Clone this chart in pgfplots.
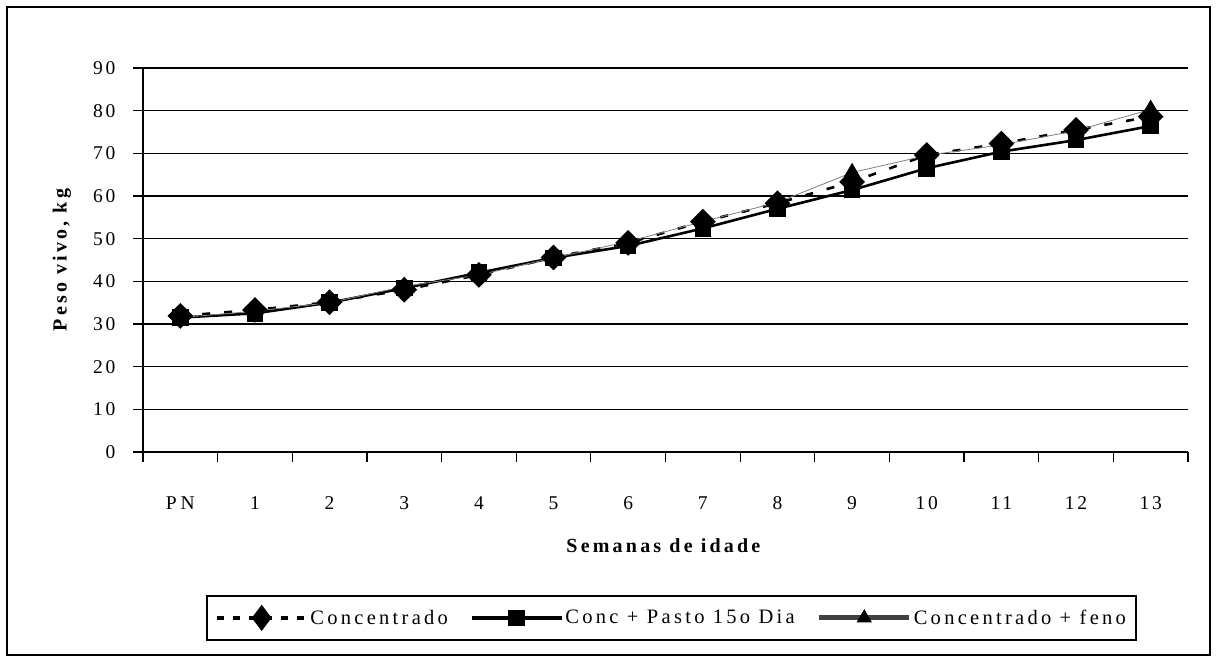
\documentclass[border=0pt]{standalone}
\usepackage{fontspec}
\setmainfont{Liberation Serif}
\newfontfamily\tickfont[LetterSpace=14]{Liberation Serif}
\newfontfamily\labfont[LetterSpace=16]{Liberation Serif}
\usepackage{pgfplots}
\pgfplotsset{compat=1.18}
\definecolor{fenogray}{HTML}{404040}
\begin{document}
\begin{tikzpicture}[x=1pt,y=1pt]
\path (-143,-208) rectangle (1075,452);
\draw[line width=1.5pt] (-136,-203) rectangle (1067,445);
\begin{axis}[
  at={(0,0)}, anchor=south west,
  scale only axis, width=1045pt, height=384pt,
  xmin=-0.5, xmax=13.5, ymin=0, ymax=90,
  axis x line=bottom, axis y line=left,
  axis line style={-, line width=1.6pt},
  ytick={0,10,...,90},
  ymajorgrids, major grid style={black, line width=1.2pt},
  tick align=outside,
  major tick length=10pt, minor tick length=10pt,
  y tick style={black, line width=1.2pt},
  major x tick style={draw=none},
  minor x tick style={black, line width=1.2pt},
  xtick={0,...,13},
  xticklabels={P\kern4pt N,1,2,3,4,5,6,7,8,9,10,11,12,13},
  minor xtick={-0.5,0.5,...,13.5},
  /pgf/number format/assume math mode=true,
  tick label style={font=\fontsize{19.5}{23}\selectfont\tickfont},
  xticklabel style={anchor=center, yshift=-41pt},
  yticklabel style={anchor=east, xshift=-14pt},
  xlabel={Semanas de idade},
  ylabel={Peso vivo, kg},
  label style={font=\fontsize{20}{24}\selectfont\labfont\bfseries},
  xlabel style={at={(axis description cs:0.498,-0.245)}, anchor=center},
  ylabel style={at={(axis description cs:-0.0775,0.5)}, anchor=center},
  legend style={at={(axis description cs:0.5057,-0.432)}, anchor=center,
    legend columns=3, draw=black, line width=1.5pt,
    font=\fontsize{20.5}{24}\selectfont\labfont,
    inner xsep=8pt, inner ysep=11pt,
    /tikz/every even column/.append style={column sep=20pt}},
  clip=false,
]
\addplot[black, line width=2.6pt, dash pattern=on 8pt off 14pt,
  mark=square*, mark size=7.8pt, mark options={solid, rotate=45},
  legend image code/.code={\draw[black, line width=3.5pt, dash pattern=on 7pt off 9pt] (0pt,0pt) -- (90pt,0pt);
    \path[black, solid] plot[mark=diamond*, mark size=11pt, mark options={solid}] coordinates {(45pt,0pt)};}]
  coordinates {(0,31.9) (1,33.3) (2,35.1) (3,38.0) (4,41.5) (5,45.6) (6,49.0)
    (7,54.0) (8,58.3) (9,63.3) (10,69.6) (11,72.3) (12,75.5) (13,78.6)};
\addlegendentry{Concentrado}
\addplot[black, line width=2.6pt,
  mark=square*, mark size=7pt, mark options={solid},
  legend image code/.code={\draw[black, line width=3.5pt] (0pt,0pt) -- (90pt,0pt);
    \path[black] plot[mark=square*, mark size=7pt] coordinates {(45pt,0pt)};}]
  coordinates {(0,31.5) (1,32.5) (2,35.0) (3,38.4) (4,42.0) (5,45.5) (6,48.3)
    (7,52.4) (8,57.0) (9,61.4) (10,66.5) (11,70.4) (12,73.1) (13,76.4)};
\addlegendentry{Conc + Pasto 15o Dia}
\addplot[gray, line width=0.8pt,
  mark=triangle*, mark size=9pt, mark options={solid, black},
  legend image code/.code={\draw[fenogray, line width=5pt] (0pt,0pt) -- (90pt,0pt);
    \path[black] plot[mark=triangle*, mark size=8pt] coordinates {(45pt,0pt)};}]
  coordinates {(0,31.5) (1,33.0) (2,35.0) (3,38.8) (4,41.5) (5,45.5) (6,49.3)
    (7,54.0) (8,58.5) (9,65.5) (10,69.5) (11,72.0) (12,75.3) (13,80.3)};
\addlegendentry{Concentrado + feno}
\end{axis}
\end{tikzpicture}
\end{document}
